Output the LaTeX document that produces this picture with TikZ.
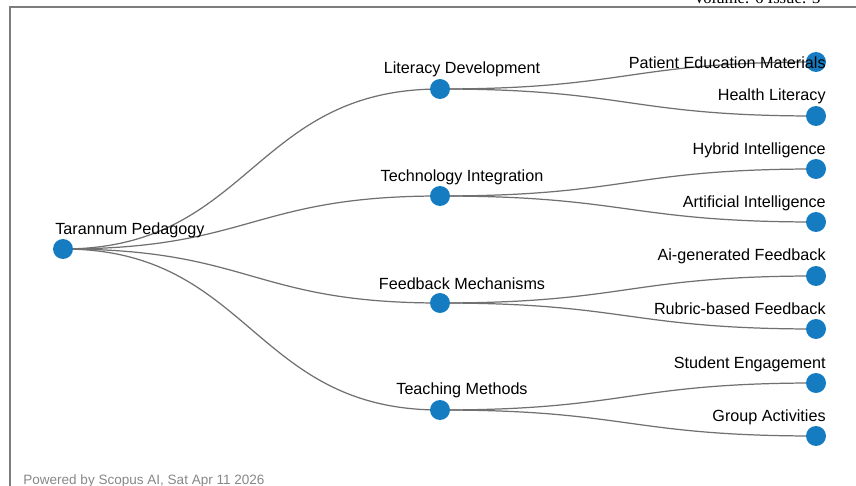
\documentclass[tikz,border=0pt]{standalone}
\usepackage{fontspec}
\setmainfont{Liberation Sans}
\newfontfamily\headfont{Liberation Serif}
\usetikzlibrary{backgrounds}
\definecolor{dotblue}{RGB}{22,124,193}
\definecolor{linkgray}{RGB}{112,112,112}
\definecolor{framegray}{RGB}{125,125,125}
\definecolor{footgray}{RGB}{135,135,135}

\begin{document}
\begin{tikzpicture}[x=0.02cm,y=-0.02cm,
  dot/.style={circle,fill=dotblue,inner sep=0pt,minimum size=0.4cm},
  link/.style={draw=linkgray,line width=0.7pt,out=0,in=180,distance=3.76cm},
  lbl/.style={font=\fontsize{9.2}{10}\selectfont,inner sep=0pt}]
\useasboundingbox (0,0) rectangle (856,486);

% frame and page header
\draw[framegray,line width=0.9pt] (10,486) -- (10,7) -- (856,7);
\node[font=\headfont\fontsize{9.5}{10}\selectfont,anchor=base west,inner sep=0pt] (vol) at (693,3.5) {Volume: 6 Issue: 3};

% root
\node[dot] (root) at (63,249) {};

% first level
\node[dot] (lit) at (440,89) {};
\node[dot] (tech) at (440,196) {};
\node[dot] (feed) at (440,303) {};
\node[dot] (teach) at (440,410) {};

% second level
\node[dot] (pem) at (816,62) {};
\node[dot] (hl) at (816,116) {};
\node[dot] (hi) at (816,169) {};
\node[dot] (ai) at (816,222) {};
\node[dot] (agf) at (816,276) {};
\node[dot] (rbf) at (816,329) {};
\node[dot] (se) at (816,383) {};
\node[dot] (ga) at (816,436) {};

% links
\begin{scope}[on background layer]
\draw[link] (root.center) to (lit.center);
\draw[link] (root.center) to (tech.center);
\draw[link] (root.center) to (feed.center);
\draw[link] (root.center) to (teach.center);
\draw[link] (lit.center) to (pem.center);
\draw[link] (lit.center) to (hl.center);
\draw[link] (tech.center) to (hi.center);
\draw[link] (tech.center) to (ai.center);
\draw[link] (feed.center) to (agf.center);
\draw[link] (feed.center) to (rbf.center);
\draw[link] (teach.center) to (se.center);
\draw[link] (teach.center) to (ga.center);
\end{scope}

% labels
\node[lbl,anchor=west] (rootlbl) at (55,230) {Tarannum Pedagogy};
\node[lbl] (litlbl) at (462,69) {Literacy Development};
\node[lbl] (techlbl) at (462,177) {Technology Integration};
\node[lbl] (feedlbl) at (462,284) {Feedback Mechanisms};
\node[lbl] (teachlbl) at (462,390) {Teaching Methods};
\node[lbl,anchor=east] (pemlbl) at (826,63) {Patient Education Materials};
\node[lbl,anchor=east] (hllbl) at (826,96) {Health Literacy};
\node[lbl,anchor=east] (hilbl) at (826,150) {Hybrid Intelligence};
\node[lbl,anchor=east] (ailbl) at (826,203) {Artificial Intelligence};
\node[lbl,anchor=east] (agflbl) at (826,256) {Ai-generated Feedback};
\node[lbl,anchor=east] (rbflbl) at (826,309) {Rubric-based Feedback};
\node[lbl,anchor=east] (selbl) at (826,364) {Student Engagement};
\node[lbl,anchor=east] (galbl) at (826,417) {Group Activities};

% footer
\node[font=\fontsize{7.7}{9}\selectfont,text=footgray,anchor=west,inner sep=0pt] (foot) at (23,481) {Powered by Scopus AI, Sat Apr 11 2026};
\end{tikzpicture}
\end{document}
